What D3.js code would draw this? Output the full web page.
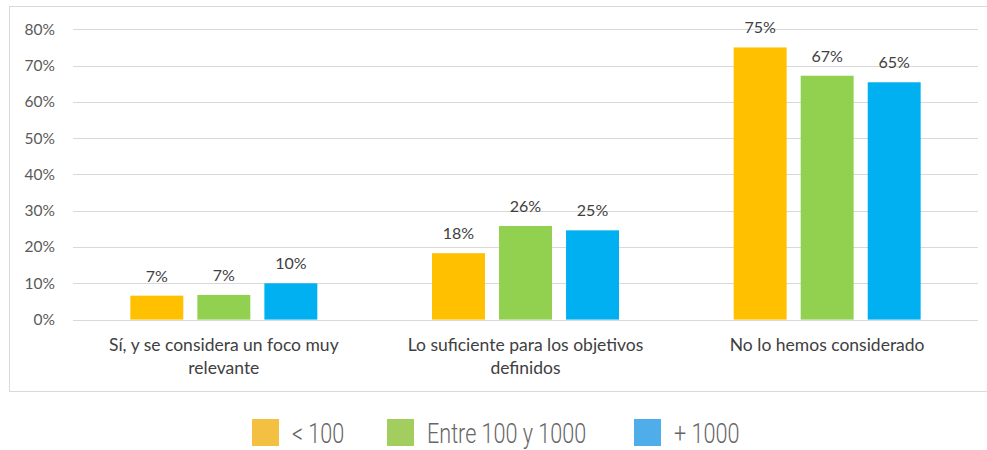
<!DOCTYPE html>
<html><head><meta charset="utf-8">
<script src="https://cdn.jsdelivr.net/npm/d3@7/dist/d3.min.js"></script>
<style>
html,body{margin:0;padding:0;background:#fff;}
svg{display:block;}
</style>
</head><body>
<svg id="chart" width="987" height="450"></svg>
<script>
const categories = [["Sí, y se considera un foco muy", "relevante"], ["Lo suficiente para los objetivos", "definidos"], ["No lo hemos considerado"]];
const series = ["< 100", "Entre 100 y 1000", "+ 1000"];
const valuesLt100 = [6.6, 18.3, 75.0];
const values100to1000 = [6.8, 25.8, 67.2];
const valuesGt1000 = [10.0, 24.6, 65.4];
const labelsLt100 = ["7%", "18%", "75%"];
const labels100to1000 = ["7%", "26%", "67%"];
const labelsGt1000 = ["10%", "25%", "65%"];
const yTicks = [0, 10, 20, 30, 40, 50, 60, 70, 80];

const barColors = ["#FFC000", "#92D050", "#00B0F0"];
const legendColors = ["#F4C042", "#A2CD5F", "#4FAEE9"];
const allValues = [valuesLt100, values100to1000, valuesGt1000];
const allLabels = [labelsLt100, labels100to1000, labelsGt1000];

const svg = d3.select("#chart");
const font = "Lato, 'Open Sans', sans-serif";

// frame
svg.append("rect").attr("x", 9.5).attr("y", 6.5).attr("width", 990).attr("height", 385)
  .attr("fill", "#fff").attr("stroke", "#d9d9d9").attr("stroke-width", 1);

const plotLeft = 73, plotRight = 978, plotTop = 29.3, plotBottom = 319.6;
const y = d3.scaleLinear().domain([0, 80]).range([plotBottom, plotTop]);
const x0 = d3.scaleBand().domain(d3.range(categories.length)).range([plotLeft, plotRight]).paddingInner(0).paddingOuter(0);

// gridlines
svg.append("g").selectAll("line").data(yTicks).join("line")
  .attr("x1", plotLeft).attr("x2", plotRight)
  .attr("y1", d => Math.round(y(d)) + 0.5).attr("y2", d => Math.round(y(d)) + 0.5)
  .attr("stroke", "#d9d9d9").attr("stroke-width", 1.2);

// y axis labels
const yAxis = d3.axisLeft(y).tickValues(yTicks).tickFormat(d => d + "%").tickSize(0).tickPadding(0);
const yg = svg.append("g").attr("transform", `translate(55,0)`).call(yAxis);
yg.select(".domain").remove();
yg.selectAll("text").attr("font-family", font).attr("font-size", 15.5).attr("fill", "#595959");

// bars
const groupW = 187;
categories.forEach((cat, ci) => {
  const c = x0(ci) + x0.bandwidth() / 2;
  const x1 = d3.scaleBand().domain(d3.range(series.length)).range([c - groupW / 2, c + groupW / 2]).paddingInner(0.21).paddingOuter(0);
  const g = svg.append("g");
  series.forEach((s, si) => {
    const v = allValues[si][ci];
    g.append("rect").attr("x", x1(si)).attr("width", x1.bandwidth())
      .attr("y", y(v)).attr("height", y(0) - y(v)).attr("fill", barColors[si]);
    g.append("text").attr("x", x1(si) + x1.bandwidth() / 2).attr("y", y(v) - 14)
      .attr("text-anchor", "middle").attr("font-family", font).attr("font-size", 16)
      .attr("fill", "#404040").text(allLabels[si][ci]);
  });
  const t = svg.append("text").attr("text-anchor", "middle").attr("font-family", font)
    .attr("font-size", 17.5).attr("fill", "#404040");
  cat.forEach((line, li) => {
    t.append("tspan").attr("x", c).attr("y", 351 + li * 23).text(line);
  });
});

// legend
const legX = [252, 387, 634];
const lg = svg.append("g");
series.forEach((s, i) => {
  lg.append("rect").attr("x", legX[i]).attr("y", 419).attr("width", 27).attr("height", 27).attr("fill", legendColors[i]);
  lg.append("text").attr("transform", `translate(${legX[i] + 40},443) scale(0.8,1)`)
    .attr("font-family", "Roboto, sans-serif").attr("font-weight", 300).attr("font-size", 27)
    .attr("fill", "#666").text(s);
});
</script>
</body></html>
